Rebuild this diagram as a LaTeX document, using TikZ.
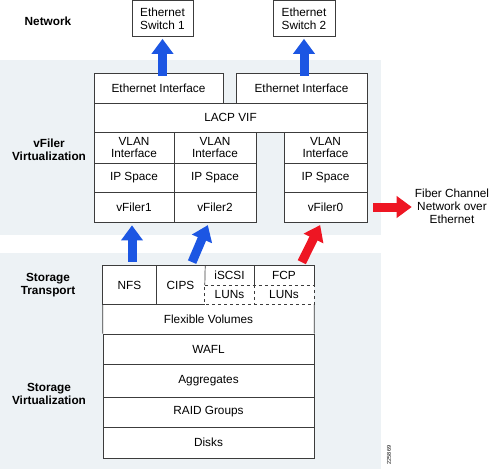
\documentclass[tikz,border=0pt]{standalone}
\usepackage{fontspec}
\setmainfont{Liberation Sans}
\usetikzlibrary{arrows.meta}
\definecolor{panelbg}{HTML}{EDF2F5}
\definecolor{boxline}{HTML}{3C3C3C}
\definecolor{netblue}{HTML}{1C56E3}
\definecolor{fcred}{HTML}{EE1623}
\tikzset{
  cell/.style={draw=boxline, line width=0.7pt, fill=white, inner sep=0pt, align=center,
    font=\fontsize{11.8}{12.8}\selectfont},
  plain/.style={inner sep=0pt, align=center, font=\fontsize{11.8}{13.2}\selectfont},
  blank/.style={plain, fill=white, font=\fontsize{11.8}{12.8}\selectfont},
  layer/.style={inner sep=0pt, align=center, font=\fontsize{11.8}{13}\selectfont\bfseries},
  edge/.style={draw=boxline, line width=0.7pt},
  bluearrow/.style={draw=netblue, line width=9pt, -{Triangle[length=15pt,width=21pt]}},
  redarrow/.style={draw=fcred, line width=9pt, -{Triangle[length=15pt,width=21pt]}}
}
\begin{document}
\begin{tikzpicture}[x=1pt, y=-1pt]
  \useasboundingbox (0,0) rectangle (491,469);
  \fill[panelbg] (0,60) rectangle (381,235);
  \fill[panelbg] (0,253) rectangle (381,469);

  \node[layer] (net) at (48,21) {Network};
  \node[layer] (vfv) at (49,150) {vFiler\\Virtualization};
  \node[layer] (stt) at (48,285) {Storage\\Transport};
  \node[layer] (stv) at (49,394) {Storage\\Virtualization};

  \node[cell, minimum width=61pt, minimum height=36pt] (sw1) at (162.5,18.5) {Ethernet\\Switch 1};
  \node[cell, minimum width=62pt, minimum height=36pt] (sw2) at (304,18.5) {Ethernet\\Switch 2};

  \node[cell, minimum width=129pt, minimum height=30pt] (eth1) at (158.5,88) {Ethernet Interface};
  \node[cell, minimum width=131pt, minimum height=30pt] (eth2) at (301.5,88) {Ethernet Interface};
  \node[cell, minimum width=273pt, minimum height=29pt] (lacp) at (230.5,117.5) {LACP VIF};

  \node[cell, minimum width=80pt, minimum height=31pt] (vlan1) at (134,147.5) {VLAN\\Interface};
  \node[cell, minimum width=80pt, minimum height=29pt] (ip1) at (134,177.5) {IP Space};
  \node[cell, minimum width=80pt, minimum height=30pt] (vf1) at (134,207) {vFiler1};
  \node[cell, minimum width=82pt, minimum height=31pt] (vlan2) at (215,147.5) {VLAN\\Interface};
  \node[cell, minimum width=82pt, minimum height=29pt] (ip2) at (215,177.5) {IP Space};
  \node[cell, minimum width=82pt, minimum height=30pt] (vf2) at (215,207) {vFiler2};
  \node[cell, minimum width=83pt, minimum height=31pt] (vlan0) at (325.5,147.5) {VLAN\\Interface};
  \node[cell, minimum width=83pt, minimum height=29pt] (ip0) at (325.5,177.5) {IP Space};
  \node[cell, minimum width=83pt, minimum height=30pt] (vf0) at (325.5,207) {vFiler0};

  \node[plain] (fiber) at (452,206.5) {Fiber Channel\\Network over\\Ethernet};

  \node[blank, minimum width=53pt, minimum height=38pt] (nfs) at (129.5,285) {NFS};
  \node[blank, minimum width=49pt, minimum height=38pt] (cips) at (180.5,285) {CIPS};
  \node[blank, minimum width=49pt, minimum height=19pt] (iscsi) at (229.5,275.5) {iSCSI};
  \node[blank, minimum width=49pt, minimum height=19pt] (luns1) at (229.5,294.5) {LUNs};
  \node[blank, minimum width=60pt, minimum height=19pt] (fcp) at (284,275.5) {FCP};
  \node[blank, minimum width=60pt, minimum height=19pt] (luns2) at (284,294.5) {LUNs};

  \node[blank, minimum width=211pt, minimum height=30pt] (flex) at (208.5,319) {Flexible Volumes};
  \node[cell, minimum width=211pt, minimum height=30pt] (wafl) at (208.5,349) {WAFL};
  \node[cell, minimum width=211pt, minimum height=33pt] (aggr) at (208.5,380.5) {Aggregates};
  \node[cell, minimum width=211pt, minimum height=30pt] (raid) at (208.5,412) {RAID Groups};
  \node[cell, minimum width=211pt, minimum height=31pt] (disks) at (208.5,442.5) {Disks};

  \draw[edge] (luns1.south west) -| (nfs.north west) -- (fcp.north east) -- (fcp.south east);
  \draw[edge] (nfs.north east) -- (nfs.south east);
  \draw[edge] (cips.north east) -- (iscsi.south west);
  \draw[edge] (iscsi.north east) -- (iscsi.south east);
  \draw[edge, dashed] (iscsi.south west) -- (fcp.south east) -- (luns2.south east)
    -- (luns1.south west) -- cycle;
  \draw[edge, dashed] (luns1.north east) -- (luns1.south east);
  \draw[edge] (nfs.south west) -- (wafl.north west);
  \draw[edge] (luns2.south east) -- (wafl.north east);

  \begin{scope}[shorten <=-3pt]
    \draw[bluearrow, shorten >=2pt] (sw1.south |- eth1.north) to (sw1.south);
    \draw[bluearrow, shorten >=2pt] (sw2.south |- eth2.north) to (sw2.south);
  \end{scope}
  \draw[bluearrow, shorten <=4pt, shorten >=3pt] ([xshift=-2pt]vf1.south |- nfs.north) to ([xshift=-2pt]vf1.south);
  \draw[bluearrow, shorten <=4pt, shorten >=3pt] ([xshift=10pt]cips.north) to ([xshift=-6pt]vf2.south);
  \draw[redarrow, shorten <=4pt, shorten >=3pt] ([xshift=16pt]fcp.north) to ([xshift=-4pt]vf0.south);
  \draw[redarrow, shorten <=6pt, shorten >=3pt] (vf0.east) to (vf0.east -| fiber.west);

  \node[plain, rotate=90, font=\fontsize{5.5}{6}\selectfont] (fignum) at (389,455) {225869};
\end{tikzpicture}
\end{document}
